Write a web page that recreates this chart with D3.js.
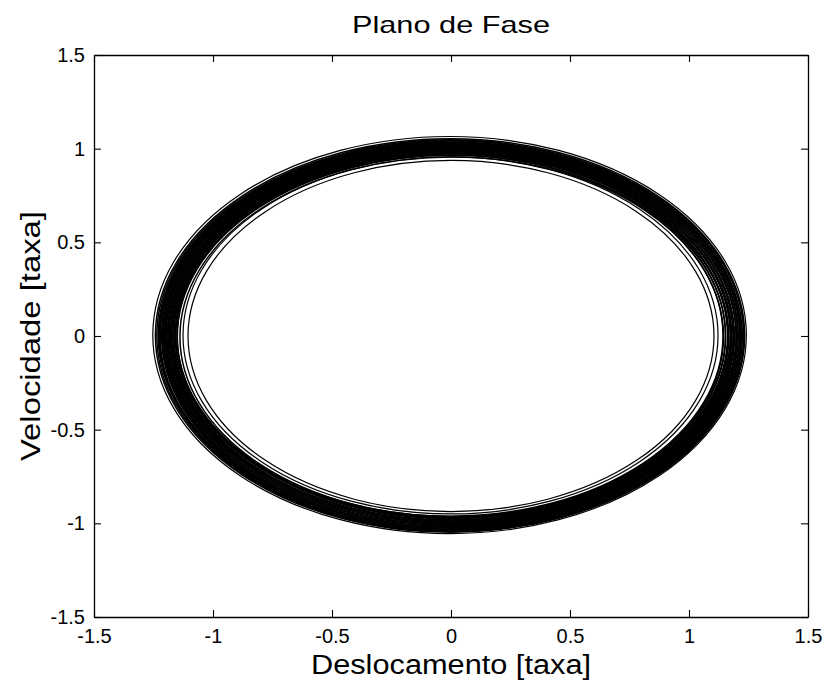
<!DOCTYPE html>
<html>
<head>
<meta charset="utf-8">
<script src="https://cdn.jsdelivr.net/npm/d3@7"></script>
<style>
  html, body { margin: 0; padding: 0; background: #fff; }
  svg { display: block; }
  text { font-family: "Liberation Sans", Arial, sans-serif; fill: #000; }
</style>
</head>
<body>
<svg id="chart" width="825" height="686"></svg>
<script>
// Axis ticks
const xTicks = [-1.5, -1, -0.5, 0, 0.5, 1, 1.5];
const yTicks = [-1.5, -1, -0.5, 0, 0.5, 1, 1.5];

// One entry per orbit of the trajectory: half-width (displacement),
// half-height (velocity) and a small centre drift.
const orbitX  = [1.105, 1.124, 1.142, 1.147, 1.152, 1.156, 1.160, 1.163, 1.166, 1.169, 1.172, 1.175,
                 1.178, 1.181, 1.184, 1.187, 1.190, 1.193, 1.196, 1.199, 1.202, 1.205, 1.208, 1.211,
                 1.214, 1.217, 1.220, 1.223, 1.226, 1.229, 1.233, 1.238, 1.247];
const orbitY  = [0.937, 0.953, 0.960, 0.964, 0.968, 0.971, 0.974, 0.977, 0.980, 0.983, 0.986, 0.989,
                 0.992, 0.995, 0.998, 1.000, 1.003, 1.006, 1.009, 1.012, 1.015, 1.018, 1.021, 1.024,
                 1.027, 1.030, 1.033, 1.036, 1.039, 1.042, 1.045, 1.050, 1.060];
const orbitCx = [0.000, -0.002, 0.003, -0.004, 0.002, -0.003, 0.004, -0.001, 0.001, -0.004, 0.003, -0.002,
                 0.002, -0.003, 0.004, -0.002, 0.001, -0.004, 0.003, -0.001, -0.003, 0.002, -0.004, 0.003,
                 -0.002, 0.004, -0.003, 0.001, -0.004, 0.002, -0.003, -0.004, -0.006];
const orbitCy = [0.000, 0.003, -0.004, 0.002, -0.003, 0.004, -0.002, 0.003, -0.004, 0.001, -0.002, 0.004,
                 -0.003, 0.002, -0.001, 0.003, -0.004, 0.002, -0.002, 0.004, -0.003, 0.001, 0.003, -0.002,
                 0.004, -0.003, 0.002, -0.004, 0.003, -0.001, 0.002, 0.003, 0.005];

const svg = d3.select("#chart");
const plotLeft = 94, plotRight = 808, plotTop = 55, plotBottom = 617;

const x = d3.scaleLinear().domain([-1.5, 1.5]).range([plotLeft, plotRight]);
const y = d3.scaleLinear().domain([-1.5, 1.5]).range([plotBottom, plotTop]);

// Orbits
const orbits = orbitX.map((a, i) => ({ a, b: orbitY[i], cx: orbitCx[i], cy: orbitCy[i] }));
svg.append("g")
  .selectAll("ellipse")
  .data(orbits)
  .join("ellipse")
  .attr("cx", d => x(d.cx))
  .attr("cy", d => y(d.cy))
  .attr("rx", d => x(d.cx + d.a) - x(d.cx))
  .attr("ry", d => y(d.cy) - y(d.cy + d.b))
  .attr("fill", "none")
  .attr("stroke", "#000")
  .attr("stroke-width", (d, i) => (i < 2 || i === orbits.length - 1) ? 1.2 : 1.5);

// Box with inward ticks on all four sides
const tickLen = 7;
const fmt = v => d3.format("~g")(v).replace("\u2212", "-");
const axB = d3.axisBottom(x).tickValues(xTicks).tickSizeInner(-tickLen).tickSizeOuter(0).tickPadding(12).tickFormat(fmt);
const axT = d3.axisTop(x).tickValues(xTicks).tickSizeInner(-tickLen).tickSizeOuter(0).tickFormat("");
const axL = d3.axisLeft(y).tickValues(yTicks).tickSizeInner(-tickLen).tickSizeOuter(0).tickPadding(9).tickFormat(fmt);
const axR = d3.axisRight(y).tickValues(yTicks).tickSizeInner(-tickLen).tickSizeOuter(0).tickFormat("");

function style(g) {
  g.selectAll("path.domain").attr("stroke", "#000").attr("stroke-width", 1.3);
  g.selectAll("line").attr("stroke", "#000").attr("stroke-width", 1.1);
  g.selectAll("text").attr("font-size", 20).attr("fill", "#1a1a1a")
    .attr("font-family", "Liberation Sans, Arial, sans-serif");
}
svg.append("g").attr("transform", `translate(0,${plotBottom})`).call(axB).call(style);
svg.append("g").attr("transform", `translate(0,${plotTop})`).call(axT).call(style);
svg.append("g").attr("transform", `translate(${plotLeft},0)`).call(axL).call(style);
svg.append("g").attr("transform", `translate(${plotRight},0)`).call(axR).call(style);

// Title and axis labels
svg.append("text")
  .attr("x", (plotLeft + plotRight) / 2).attr("y", 33)
  .attr("text-anchor", "middle").attr("font-size", 24)
  .attr("textLength", 198).attr("lengthAdjust", "spacingAndGlyphs")
  .text("Plano de Fase");

svg.append("text")
  .attr("x", (plotLeft + plotRight) / 2).attr("y", 674)
  .attr("text-anchor", "middle").attr("font-size", 27)
  .attr("textLength", 280).attr("lengthAdjust", "spacingAndGlyphs")
  .text("Deslocamento [taxa]");

svg.append("text")
  .attr("transform", `translate(40,${(plotTop + plotBottom) / 2}) rotate(-90)`)
  .attr("text-anchor", "middle").attr("font-size", 27)
  .attr("textLength", 250).attr("lengthAdjust", "spacingAndGlyphs")
  .text("Velocidade [taxa]");
</script>
</body>
</html>
